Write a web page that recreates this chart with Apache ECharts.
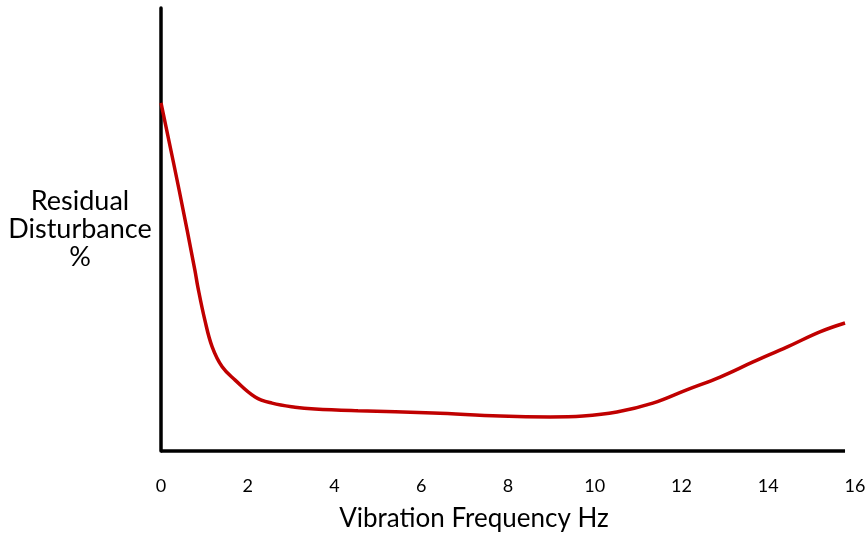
<!DOCTYPE html>
<html>
<head>
<meta charset="utf-8">
<script src="https://cdn.jsdelivr.net/npm/echarts@6/dist/echarts.min.js"></script>
<style>
html,body{margin:0;padding:0;background:#fff;}
#chart{width:865px;height:535px;}
</style>
</head>
<body>
<div id="chart"></div>
<script>
// Vibration frequency (Hz) and residual disturbance (%)
var frequency   = [0, 0.42, 0.78, 0.85, 1.01, 1.18, 1.41, 1.71, 2.17, 2.56, 3.09, 3.55, 4.54, 6.27, 7.82, 8.97, 9.73, 10.51, 11.34, 12.12, 12.89, 13.65, 14.44, 15.19, 15.77];
var disturbance = [78.6, 58.8, 40.9, 37.0, 29.6, 23.5, 19.0, 16.0, 12.2, 10.8, 9.9, 9.5, 9.1, 8.6, 7.9, 7.7, 7.9, 8.8, 10.8, 13.8, 16.7, 20.1, 23.5, 26.9, 28.9];
var xTicks = [0, 2, 4, 6, 8, 10, 12, 14, 16];
var xAxisEnd = 15.77;

var points = frequency.map(function (f, i) { return [f, disturbance[i]]; });

var chart = echarts.init(document.getElementById('chart'));
chart.setOption({
  animation: false,
  backgroundColor: '#ffffff',
  grid: { left: 161, right: 10, top: 8, bottom: 84, containLabel: false, outerBoundsMode: 'none' },
  xAxis: {
    type: 'value',
    min: xTicks[0],
    max: xTicks[xTicks.length - 1],
    interval: xTicks[1] - xTicks[0],
    axisLine: { show: false },
    axisTick: { show: false },
    splitLine: { show: false },
    axisLabel: {
      margin: 26,
      color: '#000',
      fontFamily: 'Lato',
      fontSize: 18,
      showMaxLabel: true,
      showMinLabel: true
    },
    name: 'Vibration Frequency Hz',
    nameLocation: 'middle',
    nameGap: 55,
    nameTextStyle: {
      color: '#000',
      fontFamily: 'Lato',
      fontSize: 26,
      padding: [0, 68, 0, 0]
    }
  },
  yAxis: {
    type: 'value',
    min: 0,
    max: 100,
    axisLine: { show: true, onZero: false, lineStyle: { color: '#000', width: 3.5 } },
    axisTick: { show: false },
    axisLabel: { show: false },
    splitLine: { show: false },
    name: 'Residual\nDisturbance\n%',
    nameLocation: 'middle',
    nameRotate: 0,
    nameGap: 81,
    nameTextStyle: {
      color: '#000',
      fontFamily: 'Lato',
      fontSize: 27,
      lineHeight: 28,
      align: 'center',
      verticalAlign: 'middle'
    }
  },
  series: [{
    type: 'line',
    data: points,
    smooth: 0.4,
    symbol: 'none',
    lineStyle: { color: '#c00000', width: 3.5 },
    markLine: {
      silent: true,
      symbol: ['none', 'none'],
      label: { show: false },
      lineStyle: { color: '#000', width: 3.5, type: 'solid' },
      data: [[{ coord: [0, 0] }, { coord: [xAxisEnd, 0] }]]
    }
  }]
});
</script>
</body>
</html>
